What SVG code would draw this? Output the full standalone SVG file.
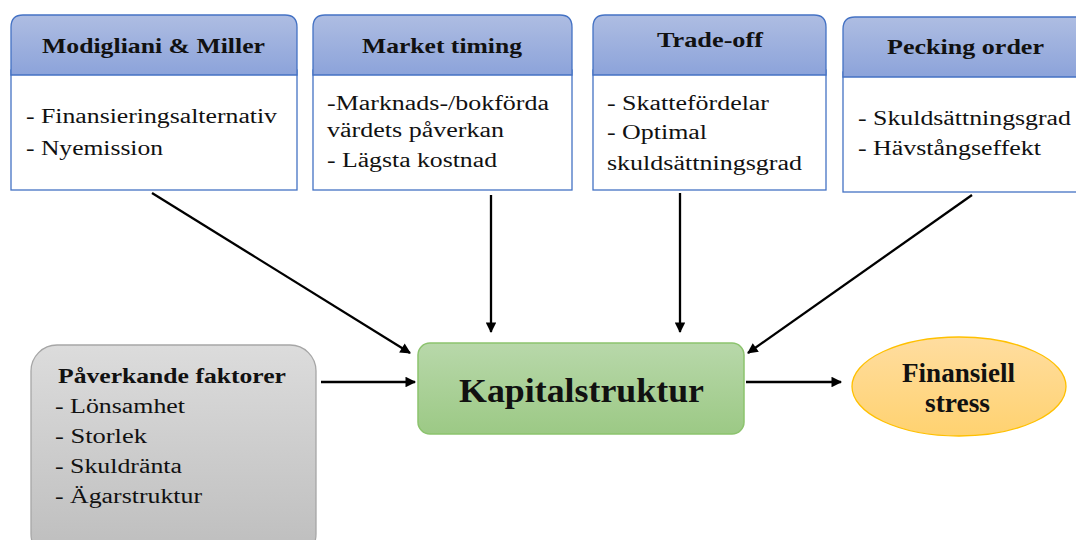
<svg xmlns="http://www.w3.org/2000/svg" width="1076" height="540" viewBox="0 0 1076 540">
<defs>
<linearGradient id="gHead" x1="0" y1="0" x2="0" y2="1"><stop offset="0" stop-color="#AEBDE2"/><stop offset="1" stop-color="#8CA3DA"/></linearGradient>
<linearGradient id="gGray" x1="0" y1="0" x2="0" y2="1"><stop offset="0" stop-color="#DCDCDC"/><stop offset="1" stop-color="#BDBDBD"/></linearGradient>
<linearGradient id="gGreen" x1="0" y1="0" x2="0" y2="1"><stop offset="0" stop-color="#B8D8AA"/><stop offset="1" stop-color="#9CC985"/></linearGradient>
<linearGradient id="gOrange" x1="0" y1="0" x2="0" y2="1"><stop offset="0" stop-color="#FFDDA0"/><stop offset="1" stop-color="#FFD270"/></linearGradient>
<marker id="arr" viewBox="0 0 10 10" refX="9" refY="5" markerWidth="5" markerHeight="4.6" orient="auto" markerUnits="strokeWidth"><path d="M0,0 L10,5 L0,10 Z" fill="#000"/></marker>
</defs>
<rect width="1076" height="540" fill="#fff"/>
<g id="mm" stroke-width="1.3">
<rect x="11" y="70" width="286" height="120" fill="#fff" stroke="#4472C4"/>
<path d="M11,75 V27 Q11,15 23,15 H285 Q297,15 297,27 V75 Z" fill="url(#gHead)" stroke="#4472C4"/>
<text font-family="Liberation Serif" fill="#111" stroke="none" font-size="21" font-weight="bold" x="42" y="53" textLength="223" lengthAdjust="spacingAndGlyphs">Modigliani &amp; Miller</text>
<text font-family="Liberation Serif" fill="#111" stroke="none" font-size="20" x="26" y="123" textLength="251" lengthAdjust="spacingAndGlyphs">- Finansieringsalternativ</text>
<text font-family="Liberation Serif" fill="#111" stroke="none" font-size="20" x="26" y="155" textLength="137" lengthAdjust="spacingAndGlyphs">- Nyemission</text>
</g>
<g id="mt" stroke-width="1.3">
<rect x="313" y="70" width="259" height="120" fill="#fff" stroke="#4472C4"/>
<path d="M313,75 V27 Q313,15 325,15 H560 Q572,15 572,27 V75 Z" fill="url(#gHead)" stroke="#4472C4"/>
<text font-family="Liberation Serif" fill="#111" stroke="none" font-size="21" font-weight="bold" x="362" y="53" textLength="160" lengthAdjust="spacingAndGlyphs">Market timing</text>
<text font-family="Liberation Serif" fill="#111" stroke="none" font-size="20" x="327" y="110" textLength="222" lengthAdjust="spacingAndGlyphs">-Marknads-/bokförda</text>
<text font-family="Liberation Serif" fill="#111" stroke="none" font-size="20" x="327" y="137" textLength="177" lengthAdjust="spacingAndGlyphs">värdets påverkan</text>
<text font-family="Liberation Serif" fill="#111" stroke="none" font-size="20" x="327" y="167" textLength="170" lengthAdjust="spacingAndGlyphs">- Lägsta kostnad</text>
</g>
<g id="to" stroke-width="1.3">
<rect x="593" y="70" width="233" height="120" fill="#fff" stroke="#4472C4"/>
<path d="M593,75 V27 Q593,15 605,15 H814 Q826,15 826,27 V75 Z" fill="url(#gHead)" stroke="#4472C4"/>
<text font-family="Liberation Serif" fill="#111" stroke="none" font-size="21" font-weight="bold" x="657" y="47" textLength="106" lengthAdjust="spacingAndGlyphs">Trade-off</text>
<text font-family="Liberation Serif" fill="#111" stroke="none" font-size="20" x="607" y="110" textLength="162" lengthAdjust="spacingAndGlyphs">- Skattefördelar</text>
<text font-family="Liberation Serif" fill="#111" stroke="none" font-size="20" x="607" y="139" textLength="100" lengthAdjust="spacingAndGlyphs">- Optimal</text>
<text font-family="Liberation Serif" fill="#111" stroke="none" font-size="20" x="607" y="170" textLength="195" lengthAdjust="spacingAndGlyphs">skuldsättningsgrad</text>
</g>
<g id="po" stroke-width="1.3">
<rect x="843" y="72" width="240" height="120" fill="#fff" stroke="#4472C4"/>
<path d="M843,77 V29 Q843,17 855,17 H1090 V77 Z" fill="url(#gHead)" stroke="#4472C4"/>
<text font-family="Liberation Serif" fill="#111" stroke="none" font-size="21" font-weight="bold" x="887" y="54" textLength="157" lengthAdjust="spacingAndGlyphs">Pecking order</text>
<text font-family="Liberation Serif" fill="#111" stroke="none" font-size="20" x="858" y="125" textLength="213" lengthAdjust="spacingAndGlyphs">- Skuldsättningsgrad</text>
<text font-family="Liberation Serif" fill="#111" stroke="none" font-size="20" x="858" y="155" textLength="183" lengthAdjust="spacingAndGlyphs">- Hävstångseffekt</text>
</g>
<g id="pf">
<rect x="31" y="345" width="285" height="215" rx="26" fill="url(#gGray)" stroke="#A6A6A6" stroke-width="1.3"/>
<text font-family="Liberation Serif" fill="#111" x="58" y="383" font-size="21" font-weight="bold" textLength="228" lengthAdjust="spacingAndGlyphs">Påverkande faktorer</text>
<text font-family="Liberation Serif" fill="#111" font-size="20" x="55" y="413" textLength="130" lengthAdjust="spacingAndGlyphs">- Lönsamhet</text>
<text font-family="Liberation Serif" fill="#111" font-size="20" x="55" y="443" textLength="92" lengthAdjust="spacingAndGlyphs">- Storlek</text>
<text font-family="Liberation Serif" fill="#111" font-size="20" x="55" y="473" textLength="127" lengthAdjust="spacingAndGlyphs">- Skuldränta</text>
<text font-family="Liberation Serif" fill="#111" font-size="20" x="55" y="503" textLength="147" lengthAdjust="spacingAndGlyphs">- Ägarstruktur</text>
</g>
<g id="ks">
<rect x="418" y="343" width="326" height="91" rx="12" fill="url(#gGreen)" stroke="#8CC36E" stroke-width="1.5"/>
<text font-family="Liberation Serif" fill="#111" x="459" y="402" font-size="33" font-weight="bold" textLength="245" lengthAdjust="spacingAndGlyphs">Kapitalstruktur</text>
</g>
<g id="fs">
<ellipse cx="959" cy="386.5" rx="107" ry="49.5" fill="url(#gOrange)" stroke="#FFC000" stroke-width="1.3"/>
<text font-family="Liberation Serif" fill="#111" x="902" y="382" font-size="27" font-weight="bold" textLength="113" lengthAdjust="spacingAndGlyphs">Finansiell</text>
<text font-family="Liberation Serif" fill="#111" x="925" y="412" font-size="27" font-weight="bold" textLength="65" lengthAdjust="spacingAndGlyphs">stress</text>
</g>
<g id="connectors" stroke="#000" stroke-width="2.3" fill="none">
<line x1="152" y1="193" x2="410" y2="353" marker-end="url(#arr)"/>
<line x1="491" y1="195" x2="491" y2="332" marker-end="url(#arr)"/>
<line x1="680" y1="193" x2="680" y2="332" marker-end="url(#arr)"/>
<line x1="972" y1="195" x2="748" y2="353" marker-end="url(#arr)"/>
<line x1="321" y1="382" x2="415" y2="382" marker-end="url(#arr)"/>
<line x1="746" y1="382" x2="841" y2="382" marker-end="url(#arr)"/>
</g>
</svg>
